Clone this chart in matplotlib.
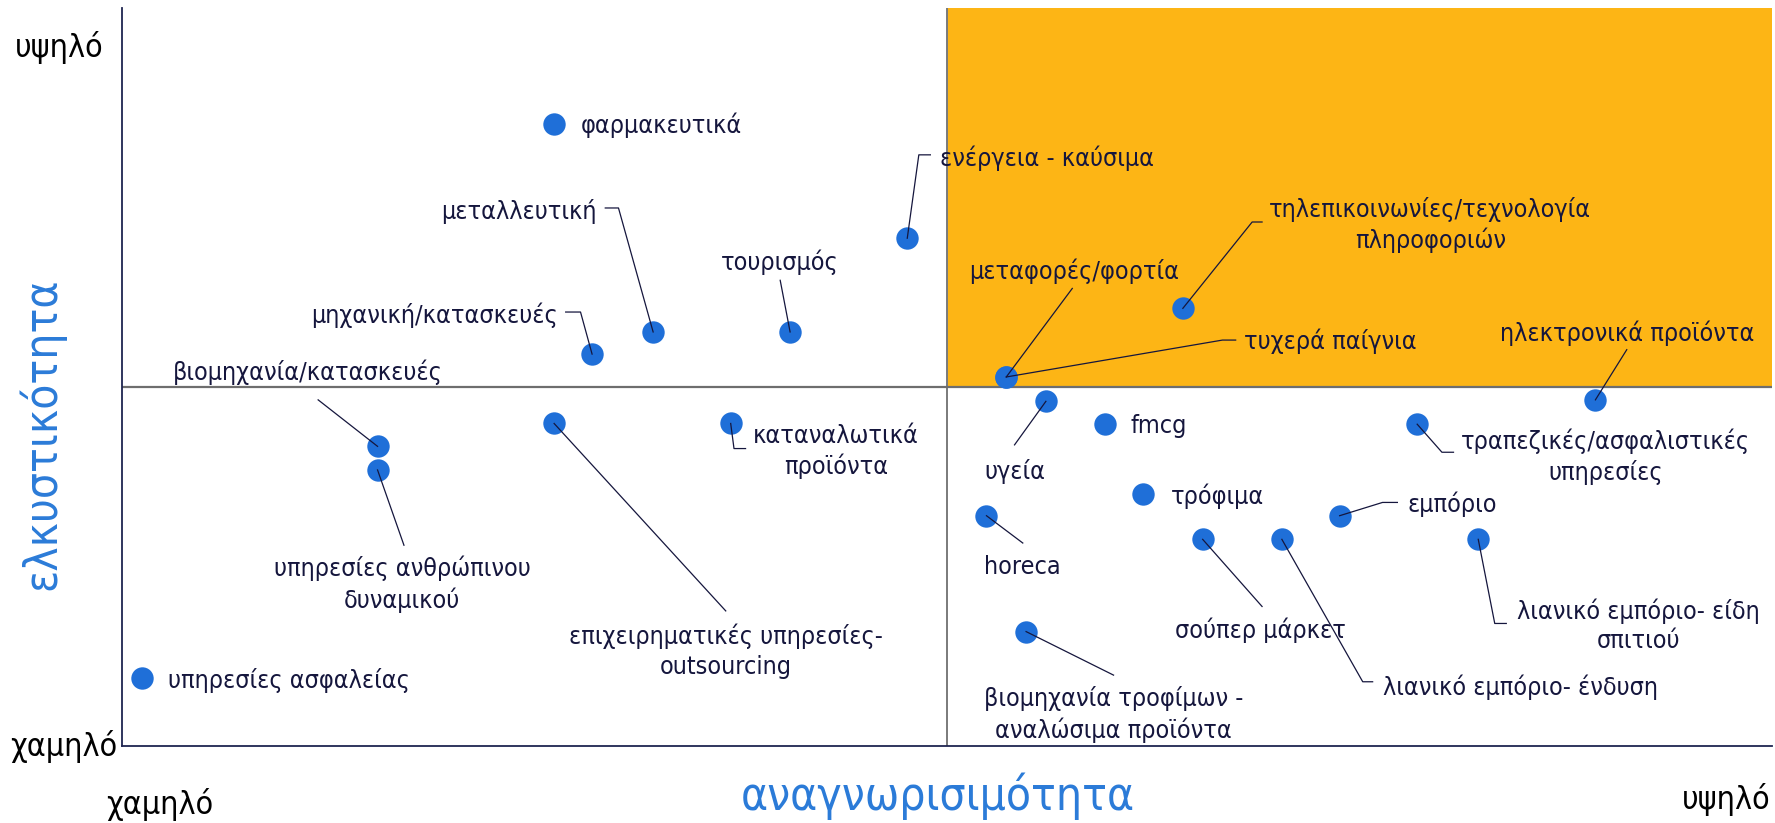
import matplotlib.pyplot as plt
from matplotlib import font_manager as fm

# sectors: position of the dot (recognition, attractiveness), 0-100 scale
names = ["φαρμακευτικά", "ενέργεια - καύσιμα", "μεταλλευτική", "τουρισμός",
         "μηχανική/κατασκευές", "βιομηχανία/κατασκευές",
         "υπηρεσίες ανθρώπινου\nδυναμικού", "υπηρεσίες ασφαλείας",
         "επιχειρηματικές υπηρεσίες-\noutsourcing", "καταναλωτικά\nπροϊόντα",
         "μεταφορές/φορτία", "τυχερά παίγνια",
         "τηλεπικοινωνίες/τεχνολογία\nπληροφοριών", "ηλεκτρονικά προϊόντα",
         "υγεία", "fmcg", "τραπεζικές/ασφαλιστικές\nυπηρεσίες", "τρόφιμα",
         "horeca", "εμπόριο", "σούπερ μάρκετ", "λιανικό εμπόριο- ένδυση",
         "λιανικό εμπόριο- είδη\nσπιτιού",
         "βιομηχανία τροφίμων -\nαναλώσιμα προϊόντα"]
x = [26.2, 47.6, 32.2, 40.5, 28.5, 15.5, 15.5, 1.2, 26.2, 36.9, 53.6, 53.6,
     64.3, 89.3, 56.0, 59.6, 78.5, 61.9, 52.4, 73.8, 65.5, 70.3, 82.2, 54.8]
y = [84.3, 68.8, 56.1, 56.1, 53.1, 40.6, 37.4, 9.2, 43.7, 43.7, 50.0, 50.0,
     59.3, 46.9, 46.7, 43.6, 43.6, 34.1, 31.2, 31.2, 28.0, 28.0, 28.0, 15.5]

# label anchors
lab_x = [27.8, 49.6, 28.8, 39.9, 26.4, 11.3, 17.0, 2.8, 36.6, 43.3, 57.7, 68.0,
         79.3, 91.2, 54.1, 61.1, 89.9, 63.6, 54.6, 77.9, 69.0, 76.4, 91.9, 60.1]
lab_y = [84.1, 79.6, 72.4, 65.6, 58.4, 50.7, 21.9, 8.9, 12.8, 39.9, 64.3, 54.8,
         70.6, 55.9, 37.2, 43.3, 39.2, 33.8, 24.3, 32.7, 15.7, 8.0, 16.3, 4.3]
lab_ha = ["left", "left", "right", "center", "right", "center", "center", "left",
          "center", "center", "center", "left", "center", "center", "center",
          "left", "center", "left", "center", "left", "center", "left",
          "center", "center"]

# leader lines: extra vertices after the dot (empty = no leader)
lead_x = [[], [48.3, 49.0], [30.1, 29.3], [39.9], [27.8, 26.9], [11.9], [17.1], [],
          [36.6], [37.1, 37.8], [57.6], [66.7, 67.5], [68.5, 69.1], [91.2],
          [54.1], [], [80.0, 80.7], [], [54.6], [76.4, 77.3], [69.1],
          [75.2, 75.8], [83.2, 83.9], [60.1]]
lead_y = [[], [80.1, 80.1], [72.9, 72.9], [63.1], [58.8, 58.8], [46.9], [27.2], [],
          [18.3], [40.3, 40.3], [62.0], [55.0, 55.0], [71.0, 71.0], [53.7],
          [40.8], [], [39.8, 39.8], [], [27.5], [33.0, 33.0], [18.9],
          [8.7, 8.7], [16.6, 16.6], [9.6]]

x_mid = 50
y_mid = 48.7

navy = "#15163d"
blue = "#1f6fd8"
orange = "#fdb515"

# pick a narrow sans if one is installed
have = {(f.name, f.stretch) for f in fm.fontManager.ttflist}
if ("DejaVu Sans", "condensed") in have:
    font = dict(family="DejaVu Sans", stretch="condensed")
elif any(n == "Liberation Sans Narrow" for n, s in have):
    font = dict(family="Liberation Sans Narrow")
else:
    font = dict(family="DejaVu Sans")

fig = plt.figure(figsize=(17.75, 8.23), dpi=100)
ax = fig.add_axes([0.0686, 0.0936, 0.9297, 0.8967])
ax.set_xlim(0, 100)
ax.set_ylim(0, 100)

ax.axvspan(x_mid, 100, ymin=y_mid / 100, ymax=1, color=orange, zorder=0, lw=0)
ax.axvline(x_mid, color="#7a7a7a", lw=1.4, zorder=1)
ax.axhline(y_mid, color="#6e6e6e", lw=1.6, zorder=1)

ax.scatter(x, y, s=260, color=blue, zorder=3, linewidths=0)

for i in range(len(names)):
    if lead_x[i]:
        ax.plot([x[i]] + lead_x[i], [y[i]] + lead_y[i], color=navy, lw=0.9, zorder=4)
    ax.text(lab_x[i], lab_y[i], names[i], ha=lab_ha[i], va="center",
            multialignment="center", fontsize=18, color=navy, linespacing=1.3,
            zorder=5, **font)

ax.set_xticks([])
ax.set_yticks([])
for side in ["top", "right"]:
    ax.spines[side].set_visible(False)
for side in ["left", "bottom"]:
    ax.spines[side].set_color("#1f2550")
    ax.spines[side].set_linewidth(1.3)

fig.text(0.0582, 0.9425, "υψηλό", ha="right", va="center", fontsize=23, color="black", **font)
fig.text(0.0663, 0.0927, "χαμηλό", ha="right", va="center", fontsize=23, color="black", **font)
fig.text(0.0901, 0.0219, "χαμηλό", ha="center", va="center", fontsize=23, color="black", **font)
fig.text(0.9972, 0.0280, "υψηλό", ha="right", va="center", fontsize=23, color="black", **font)
fig.text(0.5282, 0.0320, "αναγνωρισιμότητα", ha="center", va="center", fontsize=33,
         color="#2b7bd8", **font)
fig.text(0.0234, 0.4731, "ελκυστικότητα", ha="center", va="center", fontsize=33,
         color="#2b7bd8", rotation=90, **font)

fig.savefig("out.png", dpi=100)
